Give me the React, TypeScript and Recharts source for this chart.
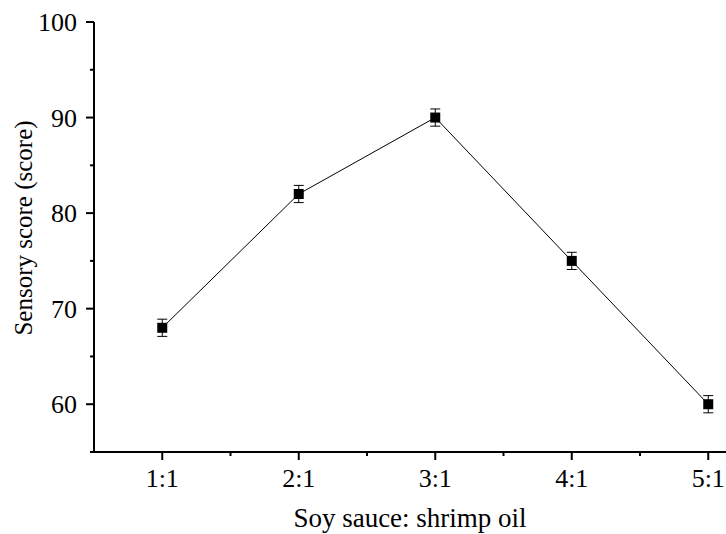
import React from 'react';
import { LineChart, Line, XAxis, YAxis, ErrorBar } from 'recharts';

const ratios = ['1:1', '2:1', '3:1', '4:1', '5:1'];
const scores = [68, 82, 90, 75, 60];
const errors = [0.9, 0.9, 0.9, 0.9, 0.9];
const yTicks = [55, 60, 65, 70, 75, 80, 85, 90, 95, 100];
const xTicks = [1, 1.5, 2, 2.5, 3, 3.5, 4, 4.5, 5];

const FONT = '"Liberation Serif", "Times New Roman", serif';

const data = ratios.map((r, i) => ({ x: i + 1, name: r, score: scores[i], err: errors[i] }));

function XTick(props: any) {
  const { x, y, payload } = props;
  const major = Number.isInteger(payload.value);
  return (
    <g>
      <line x1={x} x2={x} y1={y} y2={y + (major ? 8 : 4)} stroke="#000" strokeWidth={2} />
      {major && (
        <text x={x} y={y + 35} textAnchor="middle" fontSize={26} fontFamily={FONT} fill="#000">
          {ratios[payload.value - 1]}
        </text>
      )}
    </g>
  );
}

function YTick(props: any) {
  const { x, y, payload } = props;
  const major = payload.value % 10 === 0;
  return (
    <g>
      <line x1={x - (major ? 8 : 4)} x2={x} y1={y} y2={y} stroke="#000" strokeWidth={2} />
      {major && (
        <text x={x - 17} y={y + 9} textAnchor="end" fontSize={26} fontFamily={FONT} fill="#000">
          {payload.value}
        </text>
      )}
    </g>
  );
}

function SquareDot(props: any) {
  const { cx, cy, index } = props;
  return <rect key={index} x={cx - 5} y={cy - 5} width={10} height={10} fill="#000" />;
}

export default function App() {
  return (
    <div style={{ width: 726, height: 534 }}>
      <style>{'body{margin:0}'}</style>
      <LineChart
        width={726}
        height={534}
        data={data}
        margin={{ top: 22, right: 0, left: 0, bottom: 22 }}
      >
        <XAxis
          dataKey="x"
          type="number"
          domain={[0.5, 5.13]}
          ticks={xTicks}
          interval={0}
          height={60}
          tickSize={0}
          tickMargin={0}
          tickLine={false}
          tick={<XTick />}
          axisLine={{ stroke: '#000', strokeWidth: 2 }}
          allowDataOverflow
          label={{
            content: () => (
              <text x={410} y={527} textAnchor="middle" fontSize={27} fontFamily={FONT} fill="#000">
                Soy sauce: shrimp oil
              </text>
            ),
          }}
        />
        <YAxis
          type="number"
          domain={[55, 100]}
          ticks={yTicks}
          interval={0}
          width={94}
          tickSize={0}
          tickMargin={0}
          tickLine={false}
          tick={<YTick />}
          axisLine={{ stroke: '#000', strokeWidth: 2 }}
          allowDataOverflow
          label={{
            content: () => (
              <text
                transform="translate(32,228) rotate(-90)"
                textAnchor="middle"
                fontSize={25}
                fontFamily={FONT}
                fill="#000"
              >
                Sensory score (score)
              </text>
            ),
          }}
        />
        <Line
          dataKey="score"
          stroke="#000"
          strokeWidth={1}
          dot={<SquareDot />}
          activeDot={false}
          isAnimationActive={false}
        >
          <ErrorBar dataKey="err" width={5} stroke="#000" strokeWidth={1} direction="y" isAnimationActive={false} />
        </Line>
      </LineChart>
    </div>
  );
}
